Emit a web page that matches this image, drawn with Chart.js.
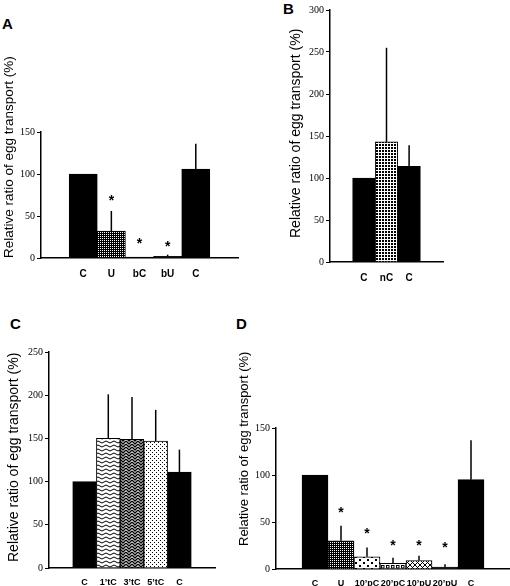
<!DOCTYPE html>
<html>
<head>
<meta charset="utf-8">
<script src="https://cdn.jsdelivr.net/npm/chart.js@4.4.0/dist/chart.umd.min.js"></script>
<style>
  body { margin: 0; background: #fff; width: 510px; height: 586px; position: relative; overflow: hidden; }
  canvas { position: absolute; }
  .letter { position: absolute; font: bold 15px "Liberation Sans", Arial, sans-serif; line-height: 1; color: #000; }
</style>
</head>
<body>
<div class="letter" style="left:2px;top:16px">A</div>
<div class="letter" style="left:283px;top:1px">B</div>
<div class="letter" style="left:10px;top:316px">C</div>
<div class="letter" style="left:236px;top:316px">D</div>

<canvas id="chartA" width="250" height="285" style="left:0;top:0"></canvas>
<canvas id="chartB" width="260" height="285" style="left:250px;top:0"></canvas>
<canvas id="chartC" width="250" height="286" style="left:0;top:300px"></canvas>
<canvas id="chartD" width="280" height="286" style="left:230px;top:300px"></canvas>

<script>
const yTitleText = 'Relative ratio of egg transport (%)';

// Panel A
const labelsA = ['C', 'U', 'bC', 'bU', 'C'];
const valuesA = [100, 32, 1, 2, 106];
const errTopA = [null, 56, null, 4, 136];   // upper end of error bar
const starsA  = [null, 71, 20, 16, null];   // where the * sits

// Panel B
const labelsB = ['C', 'nC', 'C'];
const valuesB = [100, 143, 114];
const errTopB = [null, 255, 139];

// Panel C
const labelsC = ['C', '1\u2019tC', '3\u2019tC', '5\u2019tC', 'C'];
const valuesC = [100, 150, 149, 147, 111];
const errTopC = [null, 201, 198, 183, 137];

// Panel D
const labelsD = ['C', 'U', '10\u2019pC', '20\u2019pC', '10\u2019pU', '20\u2019pU', 'C'];
const valuesD = [100, 30, 13, 6, 9, 2, 95];
const errTopD = [null, 46, 23, 12, 14, 5, 137];
const starsD  = [null, 63, 40, 27, 28, 25, null];

// empty slots on either side of the bars
function pad(arr, before, after, fill) {
    return Array(before).fill(fill).concat(arr, Array(after).fill(fill));
}

function makePattern(w, h, draw) {
    const c = document.createElement('canvas');
    c.width = w; c.height = h;
    const g = c.getContext('2d');
    g.fillStyle = '#fff';
    g.fillRect(0, 0, w, h);
    g.fillStyle = '#000';
    g.strokeStyle = '#000';
    draw(g);
    return g.createPattern(c, 'repeat');
}

const darkHatch = makePattern(2, 2, g => {
    g.fillRect(0, 0, 2, 2);
    g.fillStyle = '#fff';
    g.fillRect(0, 0, 1, 1);
});
const fineDots = makePattern(3, 3, g => {
    g.fillRect(0, 0, 2, 2);
});
const waves = makePattern(8, 4, g => {
    g.lineWidth = 1;
    g.beginPath();
    g.moveTo(0, 2);
    g.quadraticCurveTo(2, 0, 4, 2);
    g.quadraticCurveTo(6, 4, 8, 2);
    g.stroke();
});
const herring = makePattern(6, 6, g => {
    g.lineWidth = 1.4;
    g.beginPath();
    g.moveTo(0, 0); g.lineTo(3, 3); g.lineTo(6, 0);
    g.moveTo(0, 3); g.lineTo(3, 6); g.lineTo(6, 3);
    g.moveTo(0, 6); g.lineTo(3, 9); g.lineTo(6, 6);
    g.moveTo(0, -3); g.lineTo(3, 0); g.lineTo(6, -3);
    g.stroke();
});
const sparseDots = makePattern(4, 4, g => {
    g.fillRect(0, 0, 1, 1);
    g.fillRect(2, 2, 1, 1);
});
const bigDots = makePattern(8, 6, g => {
    g.fillRect(1, 1, 2, 2);
    g.fillRect(5, 4, 2, 2);
});
const rings = makePattern(5, 6, g => {
    g.lineWidth = 1;
    g.strokeRect(1.5, 1.5, 2.5, 2.5);
});
const cross = makePattern(5, 5, g => {
    g.lineWidth = 1;
    g.beginPath();
    g.moveTo(0, 0); g.lineTo(5, 5);
    g.moveTo(5, 0); g.lineTo(0, 5);
    g.stroke();
});

const errorBars = {
    id: 'errorBars',
    afterDatasetsDraw(chart, args, opts) {
        const { ctx, scales: { y } } = chart;
        const bars = chart.getDatasetMeta(0).data;
        ctx.save();
        ctx.strokeStyle = '#000';
        ctx.lineWidth = 1.5;
        (opts.tops || []).forEach((top, i) => {
            if (top == null) return;
            ctx.beginPath();
            ctx.moveTo(bars[i].x, bars[i].y);
            ctx.lineTo(bars[i].x, y.getPixelForValue(top));
            ctx.stroke();
        });
        ctx.fillStyle = '#000';
        ctx.font = 'bold 14px "Liberation Sans", Arial, sans-serif';
        ctx.textAlign = 'center';
        ctx.textBaseline = 'middle';
        (opts.stars || []).forEach((s, i) => {
            if (s == null) return;
            ctx.fillText('*', bars[i].x, y.getPixelForValue(s) + 3);
        });
        ctx.restore();
    }
};

// rotated y title, drawn without the axis-length squeeze of the built-in one
const yTitle = {
    id: 'yTitle',
    afterDraw(chart, args, opts) {
        const ctx = chart.ctx;
        ctx.save();
        ctx.translate(opts.x, opts.bottom);
        ctx.rotate(-Math.PI / 2);
        ctx.font = opts.size + 'px "Liberation Sans", Arial, sans-serif';
        ctx.fillStyle = '#000';
        ctx.textAlign = 'left';
        ctx.textBaseline = 'middle';
        ctx.fillText(yTitleText, 0, 0);
        ctx.restore();
    }
};

function makeChart(id, cfg) {
    return new Chart(document.getElementById(id), {
        type: 'bar',
        data: {
            labels: cfg.labels,
            datasets: [{
                data: cfg.values,
                backgroundColor: cfg.fills,
                borderColor: '#000',
                borderWidth: 1,
                barPercentage: 1,
                categoryPercentage: 1
            }]
        },
        options: {
            responsive: false,
            animation: false,
            layout: { padding: cfg.padding },
            plugins: {
                legend: { display: false },
                tooltip: { enabled: false },
                errorBars: { tops: cfg.errors, stars: cfg.stars },
                yTitle: cfg.title
            },
            scales: {
                x: {
                    grid: { display: false, drawTicks: false },
                    border: { color: '#000', width: 1.5 },
                    ticks: {
                        color: '#000', autoSkip: false, maxRotation: 0, padding: cfg.labelPad,
                        font: { family: 'Liberation Sans', size: cfg.labelSize, weight: 'bold' }
                    },
                    afterFit: s => { s.height = cfg.xHeight; }
                },
                y: {
                    min: 0, max: cfg.max,
                    ticks: { stepSize: 50, color: '#000', padding: 2, font: { family: 'Liberation Serif', size: 10 } },
                    grid: { drawOnChartArea: false, color: '#000', tickLength: 4, lineWidth: 1 },
                    border: { color: '#000', width: 1.5 },
                    afterFit: s => { s.width = cfg.yWidth; }
                }
            }
        },
        plugins: [errorBars, yTitle]
    });
}

makeChart('chartA', {
    labels: pad(labelsA, 1, 1, ''),
    values: pad(valuesA, 1, 1, null),
    errors: pad(errTopA, 1, 1, null),
    stars: pad(starsA, 1, 1, null),
    fills: pad(['#000', darkHatch, '#000', '#222', '#000'], 1, 1, '#000'),
    max: 150, yWidth: 41, xHeight: 27, labelSize: 10, labelPad: 10,
    padding: { top: 132, right: 12, left: 0, bottom: 0 },
    title: { x: 9, bottom: 258, size: 13.5 }
});

makeChart('chartB', {
    labels: pad(labelsB, 1, 1, ''),
    values: pad(valuesB, 1, 1, null),
    errors: pad(errTopB, 1, 1, null),
    fills: pad(['#000', fineDots, '#000'], 1, 1, '#000'),
    max: 300, yWidth: 80, xHeight: 23, labelSize: 10, labelPad: 10,
    padding: { top: 10, right: 67, left: 0, bottom: 0 },
    title: { x: 46, bottom: 238, size: 14 }
});

makeChart('chartC', {
    labels: pad(labelsC, 1, 1, ''),
    values: pad(valuesC, 1, 1, null),
    errors: pad(errTopC, 1, 1, null),
    fills: pad(['#000', waves, herring, sparseDots, '#000'], 1, 1, '#000'),
    max: 250, yWidth: 49, xHeight: 18, labelSize: 9, labelPad: 9,
    padding: { top: 52, right: 35, left: 0, bottom: 0 },
    title: { x: 14, bottom: 262, size: 14 }
});

makeChart('chartD', {
    labels: pad(labelsD, 1, 1, ''),
    values: pad(valuesD, 1, 1, null),
    errors: pad(errTopD, 1, 1, null),
    stars: pad(starsD, 1, 1, null),
    fills: pad(['#000', darkHatch, bigDots, rings, cross, '#333', '#000'], 1, 1, '#000'),
    max: 150, yWidth: 46, xHeight: 17, labelSize: 9, labelPad: 9,
    padding: { top: 128, right: 0, left: 0, bottom: 0 },
    title: { x: 14, bottom: 246, size: 13 }
});
</script>
</body>
</html>
